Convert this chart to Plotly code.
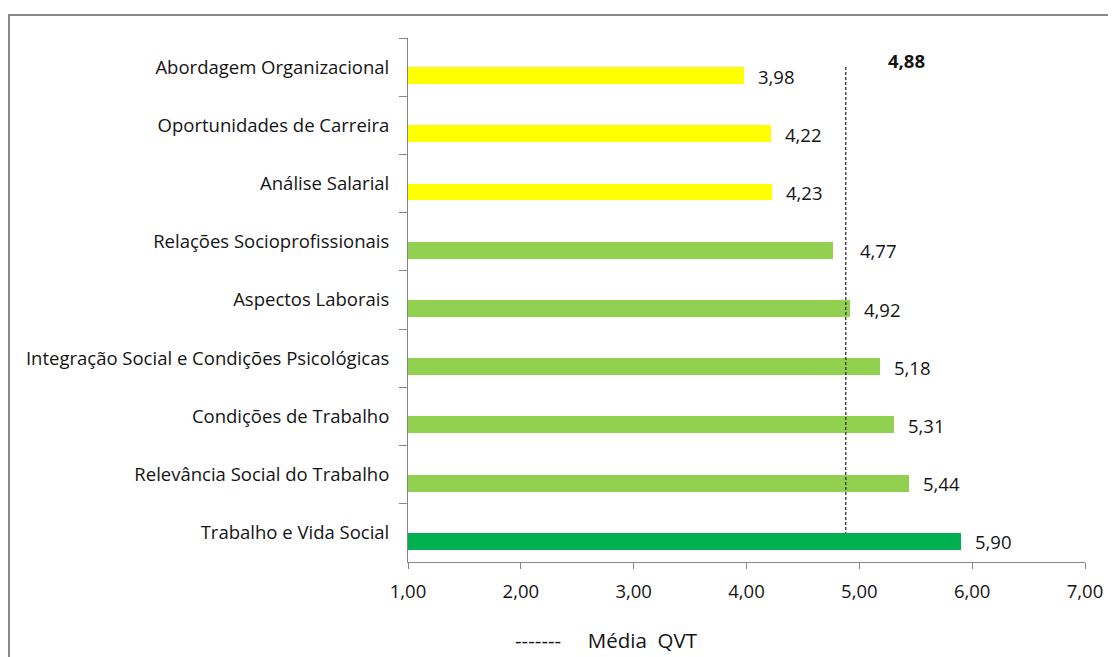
import plotly.graph_objects as go

categories = [
    "Abordagem Organizacional",
    "Oportunidades de Carreira",
    "Análise Salarial",
    "Relações Socioprofissionais",
    "Aspectos Laborais",
    "Integração Social e Condições Psicológicas",
    "Condições de Trabalho",
    "Relevância Social do Trabalho",
    "Trabalho e Vida Social",
]
values = [3.98, 4.22, 4.23, 4.77, 4.92, 5.18, 5.31, 5.44, 5.90]
bar_colors = ["#FFFF00", "#FFFF00", "#FFFF00",
              "#92D050", "#92D050", "#92D050", "#92D050", "#92D050",
              "#00B050"]
label_texts = ["3,98", "4,22", "4,23", "4,77", "4,92", "5,18", "5,31", "5,44", "5,90"]
label_xshift = [12, 12, 12, 25, 12, 12, 12, 12, 12]
mean_qvt = 4.88
mean_label = "4,88"
axis_min = 1
x_ticks = [1, 2, 3, 4, 5, 6, 7]
x_tick_labels = ["1,00", "2,00", "3,00", "4,00", "5,00", "6,00", "7,00"]

FONT = "Open Sans"
FS = 18.5
TXT = "#141414"
AX = "#868686"

fig = go.Figure()
fig.add_trace(go.Bar(
    x=[v - axis_min for v in values], y=categories, orientation="h",
    base=axis_min,
    marker=dict(color=bar_colors, line=dict(width=0)),
    width=0.29, offset=0,
    showlegend=False, hoverinfo="skip",
))

fig.add_trace(go.Scatter(
    x=[mean_qvt, mean_qvt], y=[categories[0], categories[-1]],
    mode="lines", line=dict(color="#333333", width=1.3, dash="3px,2px"),
    showlegend=False, hoverinfo="skip",
))

annotations = []
for c, v, t, xs in zip(categories, values, label_texts, label_xshift):
    annotations.append(dict(
        x=v, y=c, xref="x", yref="y", text=t, showarrow=False,
        xanchor="left", yanchor="middle", xshift=xs, yshift=-9,
        font=dict(family=FONT, size=FS, color=TXT),
    ))
annotations.append(dict(
    x=mean_qvt, y=0.958, xref="x", yref="paper", text="<b>" + mean_label + "</b>",
    showarrow=False, xanchor="center", yanchor="middle", xshift=61,
    font=dict(family=FONT, size=FS, color=TXT),
))
annotations.append(dict(
    x=0.293, y=-0.149, xref="paper", yref="paper",
    text="-------&nbsp;&nbsp;&nbsp;&nbsp;&nbsp;Média&nbsp;&nbsp;QVT", showarrow=False,
    xanchor="center", yanchor="middle",
    font=dict(family=FONT, size=20.5, color=TXT),
))

# page body has an 8px margin; figure is placed at (8, 8)
L, R, T, B = 400, 31, 30, 95
W, H = 1108, 649
pw, ph = W - L - R, H - T - B
fig.add_shape(type="rect", xref="paper", yref="paper",
              x0=(1 - L) / pw, x1=(W + 10 - L) / pw,
              y0=-(B + 10) / ph, y1=(T + ph - 7) / ph,
              line=dict(color="#888888", width=2), fillcolor="rgba(0,0,0,0)", layer="below")

fig.update_layout(
    width=W, height=H,
    margin=dict(l=L, r=R, t=T, b=B, pad=0),
    paper_bgcolor="white", plot_bgcolor="white",
    font=dict(family=FONT, size=FS, color=TXT),
    annotations=annotations,
    bargap=0,
    xaxis=dict(
        range=[1, 7], tickvals=x_ticks, ticktext=x_tick_labels,
        showgrid=False, zeroline=False, showline=True, linecolor=AX, linewidth=1,
        ticks="outside", ticklen=6, tickcolor=AX, ticklabelstandoff=7,
        tickfont=dict(family=FONT, size=FS, color=TXT),
    ),
    yaxis=dict(
        autorange="reversed", showgrid=False, zeroline=False,
        showline=True, linecolor=AX, linewidth=1,
        ticks="outside", ticklen=8, tickcolor=AX, tickson="boundaries",
        ticklabelstandoff=14,
        tickfont=dict(family=FONT, size=FS, color=TXT),
    ),
)

fig.write_html("out.html")
